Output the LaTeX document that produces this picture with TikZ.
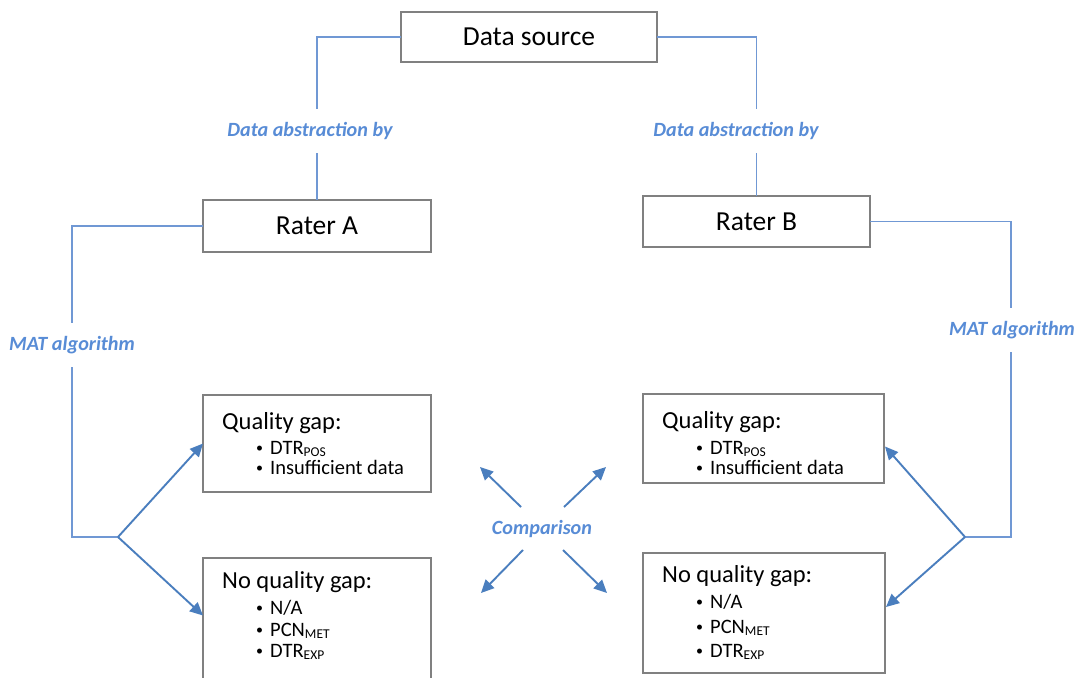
\documentclass[tikz,border=0pt]{standalone}
\usepackage{fontspec}
\setmainfont{Carlito}
\usetikzlibrary{arrows.meta,calc}

\definecolor{linec}{RGB}{112,152,212}
\definecolor{arrc}{RGB}{74,126,190}
\definecolor{labc}{RGB}{88,140,214}
\definecolor{boxc}{RGB}{128,128,128}

\newcommand{\sbs}[1]{{\fontsize{13.5}{13.5}\selectfont\raisebox{-2.5pt}{#1}}}
\newcommand{\dotmark}{{\fontsize{14}{14}\selectfont\raisebox{1.5pt}{\textbullet}}}

\tikzset{
  box/.style={draw=boxc, line width=1.5pt, fill=white, inner sep=0pt, outer sep=0pt},
  bigtxt/.style={font=\fontsize{27.5}{30}\selectfont, inner sep=0pt},
  head/.style={font=\fontsize{24.5}{26}\selectfont, anchor=base west, inner sep=0pt},
  item/.style={font=\fontsize{20.5}{22}\selectfont, anchor=base west, inner sep=0pt},
  conn/.style={draw=linec, line width=1.9pt},
  arr/.style={draw=arrc, line width=1.9pt, -{Triangle[length=13pt,width=12pt]}},
  lab/.style={font=\fontsize{20.2}{22}\selectfont\bfseries\itshape, text=labc,
              fill=white, minimum height=44pt, inner xsep=2pt}
}

\begin{document}
\begin{tikzpicture}[x=1pt,y=-1pt]
\clip (0,0) rectangle (1083,677);
\fill[white] (0,0) rectangle (1083,677);

% boxes
\node[box, minimum width=256pt, minimum height=50pt] (ds) at (529,37) {};
\node[box, minimum width=228pt, minimum height=52pt] (ra) at (317,226) {};
\node[box, minimum width=227pt, minimum height=51pt] (rb) at (756.5,221.5) {};
\node[box, minimum width=228pt, minimum height=97pt] (qa) at (317,443.5) {};
\node[box, minimum width=228pt, minimum height=125pt] (na) at (317,620.5) {};
\node[box, minimum width=241pt, minimum height=89pt] (qb) at (763.5,438.5) {};
\node[box, minimum width=242pt, minimum height=120pt] (nb) at (764,613) {};

% box titles
\node[bigtxt] (dst) at (ds) {Data source};
\node[bigtxt] (rat) at (ra) {Rater A};
\node[bigtxt] (rbt) at (rb) {Rater B};

% quality gap, rater A
\node[head] (qah) at (222,429) {Quality gap:};
\node[item] (qa1b) at (256,454) {\dotmark};
\node[item] (qa1) at (270,454) {DTR\sbs{POS}};
\node[item] (qa2b) at (256,474) {\dotmark};
\node[item] (qa2) at (270,474) {Insufficient data};

% no quality gap, rater A
\node[head] (nah) at (222,588) {No quality gap:};
\node[item] (na1b) at (256,614) {\dotmark};
\node[item] (na1) at (270,614) {N/A};
\node[item] (na2b) at (256,636) {\dotmark};
\node[item] (na2) at (270,636) {PCN\sbs{MET}};
\node[item] (na3b) at (256,657) {\dotmark};
\node[item] (na3) at (270,657) {DTR\sbs{EXP}};

% quality gap, rater B
\node[head] (qbh) at (662,428) {Quality gap:};
\node[item] (qb1b) at (696,454) {\dotmark};
\node[item] (qb1) at (710,454) {DTR\sbs{POS}};
\node[item] (qb2b) at (696,474) {\dotmark};
\node[item] (qb2) at (710,474) {Insufficient data};

% no quality gap, rater B
\node[head] (nbh) at (662,582) {No quality gap:};
\node[item] (nb1b) at (696,608) {\dotmark};
\node[item] (nb1) at (710,608) {N/A};
\node[item] (nb2b) at (696,633) {\dotmark};
\node[item] (nb2) at (710,633) {PCN\sbs{MET}};
\node[item] (nb3b) at (696,657) {\dotmark};
\node[item] (nb3) at (710,657) {DTR\sbs{EXP}};

% connector corners and branch points
\coordinate (cl) at (72,537);
\coordinate (jl) at (118,537);
\coordinate (cr) at (1011,537);
\coordinate (jr) at (965,537);

% data source to raters
\draw[conn] (ds.west) -| (ra.north);
\draw[conn] (ds.east) -| (rb.north);

% raters to branch points
\draw[conn] (ra.west) -| (cl) -- (jl);
\draw[conn] (rb.east) -| (cr) -- (jr);

% branch arrows
\draw[arr] (jl) -- (qa.west);
\draw[arr] (jl) -- ($(na.west)+(0,-5)$);
\draw[arr] (jr) -- ($(qb.east)+(1,8)$);
\draw[arr] (jr) -- ($(nb.east)+(1,-6)$);

% labels on the connectors
\node[lab] (abA) at (310,131) {Data abstraction by};
\node[lab] (abB) at (736,131) {Data abstraction by};
\node[lab] (matA) at (72,345) {MAT algorithm};
\node[lab] (matB) at (1012,330) {MAT algorithm};

% comparison
\node[font=\fontsize{20.2}{22}\selectfont\bfseries\itshape, text=labc, inner sep=0pt] (cmp) at (542,529) {Comparison};
\draw[arr] ($(cmp)+(-21,-22)$) -- ($(cmp)+(-62,-62)$);
\draw[arr] ($(cmp)+(22,-22)$) -- ($(cmp)+(64,-62)$);
\draw[arr] ($(cmp)+(-19,21)$) -- ($(cmp)+(-61,64)$);
\draw[arr] ($(cmp)+(21,21)$) -- ($(cmp)+(65,64)$);
\end{tikzpicture}
\end{document}
